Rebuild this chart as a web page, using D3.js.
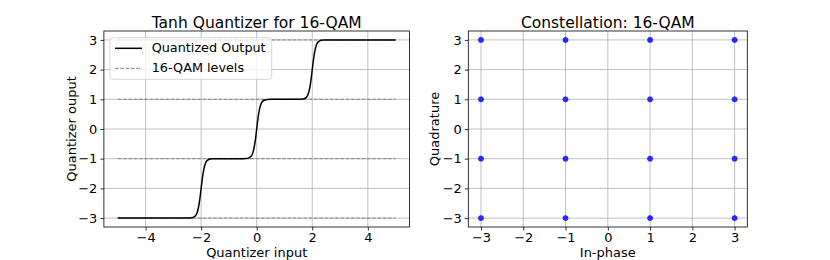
<!DOCTYPE html>
<html>
<head>
<meta charset="utf-8">
<script src="https://cdn.jsdelivr.net/npm/d3@7"></script>
<style>
  body { margin: 0; background: #fff; }
  svg text { font-family: "DejaVu Sans", sans-serif; fill: #000; }
</style>
</head>
<body>
<div id="chart"></div>
<script>
// quantizer curve
const curveX = [-5, -2.5, -2.4, -2.3, -2.2, -2.15, -2.1, -2.05, -2, -1.95, -1.9, -1.85, -1.8, -1.7, -1.6, -1.5,
  -0.5, -0.4, -0.3, -0.2, -0.15, -0.1, -0.05, 0, 0.05, 0.1, 0.15, 0.2, 0.3, 0.4, 0.5,
  1.5, 1.6, 1.7, 1.8, 1.85, 1.9, 1.95, 2, 2.05, 2.1, 2.15, 2.2, 2.3, 2.4, 2.5, 5];
const curveY = [-3, -3, -2.997, -2.98, -2.92, -2.83, -2.66, -2.38, -2, -1.62, -1.34, -1.17, -1.08, -1.02, -1.004, -1,
  -1, -0.997, -0.98, -0.92, -0.83, -0.66, -0.38, 0, 0.38, 0.66, 0.83, 0.92, 0.98, 0.997, 1,
  1, 1.004, 1.02, 1.08, 1.17, 1.34, 1.62, 2, 2.38, 2.66, 2.83, 2.92, 2.98, 2.997, 3, 3];
const qamLevels = [-3, -1, 1, 3];
const levelSpan = [-5, 5];
const constI = [-3, -3, -3, -3, -1, -1, -1, -1, 1, 1, 1, 1, 3, 3, 3, 3];
const constQ = [-3, -1, 1, 3, -3, -1, 1, 3, -3, -1, 1, 3, -3, -1, 1, 3];
const leftXTicks = [-4, -2, 0, 2, 4];
const rightXTicks = [-3, -2, -1, 0, 1, 2, 3];
const yTicks = [-3, -2, -1, 0, 1, 2, 3];

const svg = d3.select('#chart').append('svg')
  .attr('width', 830).attr('height', 260);

const plotTop = 31, plotBottom = 227;
const fs = 13;
const fmt = d => d < 0 ? '\u2212' + Math.abs(d) : String(d);

function panel(left, right, xDom, xTicks, title, xLabel, yLabel, yLabelX) {
  const x = d3.scaleLinear().domain(xDom).range([left, right]);
  const y = d3.scaleLinear().domain([-3.3, 3.3]).range([plotBottom, plotTop]);
  const g = svg.append('g');

  // grid
  g.selectAll('.gx').data(xTicks).join('line')
    .attr('x1', d => x(d)).attr('x2', d => x(d))
    .attr('y1', plotTop).attr('y2', plotBottom)
    .attr('stroke', '#b0b0b0').attr('stroke-width', 0.8);
  g.selectAll('.gy').data(yTicks).join('line')
    .attr('y1', d => y(d)).attr('y2', d => y(d))
    .attr('x1', left).attr('x2', right)
    .attr('stroke', '#b0b0b0').attr('stroke-width', 0.8);

  const xAxis = g.append('g')
    .attr('transform', `translate(0,${plotBottom})`)
    .call(d3.axisBottom(x).tickValues(xTicks).tickFormat(fmt).tickSize(3.5).tickPadding(2.5));
  const yAxis = g.append('g')
    .attr('transform', `translate(${left},0)`)
    .call(d3.axisLeft(y).tickValues(yTicks).tickFormat(fmt).tickSize(3.5).tickPadding(3));
  [xAxis, yAxis].forEach(a => {
    a.select('.domain').remove();
    a.selectAll('text').attr('font-size', fs).style('font-family', '"DejaVu Sans", sans-serif');
    a.selectAll('line').attr('stroke-width', 0.8);
  });

  g.append('rect')
    .attr('x', left).attr('y', plotTop)
    .attr('width', right - left).attr('height', plotBottom - plotTop)
    .attr('fill', 'none').attr('stroke', '#000').attr('stroke-width', 0.8);

  g.append('text').attr('x', (left + right) / 2).attr('y', 27.5)
    .attr('text-anchor', 'middle').attr('font-size', 15.5).text(title);
  g.append('text').attr('x', (left + right) / 2).attr('y', 257.3)
    .attr('text-anchor', 'middle').attr('font-size', fs).text(xLabel);
  g.append('text')
    .attr('transform', `translate(${yLabelX},${(plotTop + plotBottom) / 2}) rotate(-90)`)
    .attr('text-anchor', 'middle').attr('font-size', fs).text(yLabel);

  return { g, x, y };
}

// left panel
const L = panel(103.9, 409.5, [-5.5, 5.5], leftXTicks, 'Tanh Quantizer for 16-QAM',
  'Quantizer input', 'Quantizer ouput', 75.5);

L.g.selectAll('.lvl').data(qamLevels).join('line')
  .attr('x1', L.x(levelSpan[0])).attr('x2', L.x(levelSpan[1]))
  .attr('y1', d => L.y(d)).attr('y2', d => L.y(d))
  .attr('stroke', '#808080').attr('stroke-width', 1)
  .attr('stroke-dasharray', '3.7,1.6');

const pts = curveX.map((v, i) => [v, curveY[i]]);
L.g.append('path').datum(pts)
  .attr('fill', 'none').attr('stroke', '#000').attr('stroke-width', 1.5)
  .attr('d', d3.line().x(d => L.x(d[0])).y(d => L.y(d[1])).curve(d3.curveMonotoneX));

// legend
const lg = L.g.append('g');
lg.append('rect').attr('x', 110).attr('y', 37.7).attr('width', 161.7).attr('height', 41.6)
  .attr('rx', 3).attr('fill', '#fff').attr('fill-opacity', 0.8)
  .attr('stroke', '#cccccc').attr('stroke-width', 0.8);
lg.append('line').attr('x1', 115).attr('x2', 142).attr('y1', 48.3).attr('y2', 48.3)
  .attr('stroke', '#000').attr('stroke-width', 1.5);
lg.append('line').attr('x1', 115).attr('x2', 142).attr('y1', 68.3).attr('y2', 68.3)
  .attr('stroke', '#808080').attr('stroke-width', 1).attr('stroke-dasharray', '3.7,1.6');
lg.append('text').attr('x', 151.7).attr('y', 52.3).attr('font-size', 12.8).text('Quantized Output');
lg.append('text').attr('x', 151.7).attr('y', 72.3).attr('font-size', 12.8).text('16-QAM levels');

// right panel
const R = panel(468.3, 747.3, [-3.3, 3.3], rightXTicks, 'Constellation: 16-QAM',
  'In-phase', 'Quadrature', 438.5);

R.g.selectAll('.pt').data(constI.map((v, i) => [v, constQ[i]])).join('circle')
  .attr('cx', d => R.x(d[0])).attr('cy', d => R.y(d[1]))
  .attr('r', 2.6).attr('fill', '#0000ff').attr('fill-opacity', 0.8)
  .attr('stroke', '#0000ff').attr('stroke-width', 0.5);
</script>
</body>
</html>
